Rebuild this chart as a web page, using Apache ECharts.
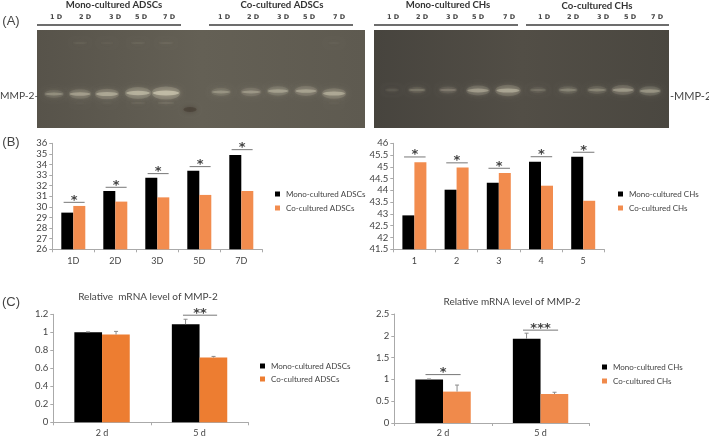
<!DOCTYPE html>
<html><head><meta charset="utf-8">
<style>html,body{margin:0;padding:0;background:#fff}#c{width:709px;height:438px;filter:blur(0.4px)}</style>
<script src="https://cdn.jsdelivr.net/npm/echarts@6/dist/echarts.min.js"></script>
</head><body><div id="c"></div>
<script>
// ---------- data ----------
const daysB1 = ['1D','2D','3D','5D','7D'];
const monoAdscB = [29.46,31.5,32.76,33.4,34.9];
const coAdscB = [30.09,30.5,30.9,31.13,31.5];
const sigAdscB = [30.43,31.85,33.14,33.8,35.4];

const daysB2 = ['1','2','3','4','5'];
const monoChB = [42.94,44.03,44.32,45.22,45.43];
const coChB = [45.2,44.97,44.74,44.2,43.56];
const sigChB = [45.42,45.17,44.94,45.43,45.62];

const daysC = ['2 d','5 d'];
const monoAdscC = [1.0,1.09];
const coAdscC = [0.975,0.72];
const monoAdscErr = [0.005,0.055];
const coAdscErr = [0.035,0.012];
const monoChC = [1.0,1.93];
const coChC = [0.72,0.665];
const monoChErr = [0.01,0.13];
const coChErr = [0.15,0.04];
const sigAdscC = [[1,1.19,'**']];
const sigChC = [[0,1.11,'*'],[1,2.13,'***']];

const gelLaneLabels = ['1 D','2 D','3 D','5 D','7 D'];
// gel lanes: position along the gel and band strength (0..1)
const gel1Lanes = [54,80,107,138,166,221,251,278,306,334];
const gel1Main = [0.45,0.62,0.72,0.85,1.0,0.45,0.5,0.6,0.65,0.72];
const gel1MainY = [94,94,94,93,93,92,92,91,91,93.5];
const gel1Upper = [0,0.18,0.15,0.2,0.22,0,0,0,0,0.12];
const gel1Lower = [0,0.06,0.12,0.22,0.35,0,0,0,0,0.1];
const gel2Lanes = [392,417,448,478,508,538,568,597,623,650];
const gel2Main = [0.1,0.32,0.35,0.68,0.8,0.25,0.42,0.45,0.65,0.6];
const gel2MainY = [90,90,90,90.5,90.5,90,90,90,90,91];

// ---------- styles ----------
const FONT = 'Lato, "Open Sans", sans-serif';
const ORANGE_B = '#f28c4e', ORANGE_C1 = '#ed7d31', ORANGE_C2 = '#f08a4b';
const TXT = '#444';
const AXISC = '#aaa';

const grids = [
  {left:37,top:30,width:328,height:98,show:true,borderWidth:0,
    backgroundColor:new echarts.graphic.LinearGradient(0,0,1,0,[{offset:0,color:'#57534a'},{offset:.5,color:'#646055'},{offset:1,color:'#5e5a50'}])},
  {left:374,top:30,width:295,height:98,show:true,borderWidth:0,
    backgroundColor:new echarts.graphic.LinearGradient(0,0,1,0,[{offset:0,color:'#47443e'},{offset:.5,color:'#524e46'},{offset:1,color:'#4a4740'}])},
  {left:52.3,top:143.3,width:210,height:106},
  {left:393.3,top:143.3,width:211,height:106},
  {left:53.3,top:314.3,width:195,height:108},
  {left:394.3,top:314,width:195,height:110.3}
];

function catAxis(i,cats,margin){
  return {type:'category',gridIndex:i,data:cats,
    axisLine:{show:true,lineStyle:{color:AXISC,width:1}},
    axisTick:{show:true,length:3,lineStyle:{color:AXISC}},
    axisLabel:{color:TXT,fontFamily:FONT,fontSize:9,margin:margin}};
}
function valAxis(i,min,max,interval){
  return {type:'value',gridIndex:i,min,max,interval,splitLine:{show:false},
    axisLine:{show:true,lineStyle:{color:AXISC,width:1}},
    axisTick:{show:true,length:3,lineStyle:{color:AXISC}},
    axisLabel:{color:TXT,fontFamily:FONT,fontSize:9.5,margin:5}};
}
function hiddenX(i,min,max){return {type:'value',gridIndex:i,min,max,show:false};}
function hiddenY(i){return {type:'value',gridIndex:i,min:30,max:128,inverse:true,show:false};}

function bar(name,data,ax,color,w){
  return {type:'bar',name,data,xAxisIndex:ax,yAxisIndex:ax,barWidth:w,barGap:0,
    itemStyle:{color},silent:true,z:2};
}
// significance bracket: line plus stars centred a few pixels above it
function bracket(ax,rows,half,off){
  return {type:'custom',xAxisIndex:ax,yAxisIndex:ax,z:4,silent:true,
    data:rows.map((r,i)=>[r[0],r[1],i]),
    renderItem(p,api){
      const c=api.coord([api.value(0),api.value(1)]);
      const bw=api.size([1,0])[0];
      const x=c[0]+(off||0)*bw;
      return {type:'group',children:[
        {type:'line',shape:{x1:x-half*bw,y1:c[1],x2:x+half*bw,y2:c[1]},style:{stroke:'#777',lineWidth:1}},
        {type:'text',style:{text:rows[api.value(2)][2],x:x,y:c[1]-2,align:'center',verticalAlign:'middle',
          font:'bold 13px "DejaVu Sans", sans-serif',fill:'#444'}}
      ]};
    }};
}
function errBars(ax,vals,errs,shift){
  return {type:'custom',xAxisIndex:ax,yAxisIndex:ax,z:3,silent:true,
    data:vals.map((v,i)=>[i,v,errs[i]]),
    renderItem(p,api){
      const v=api.value(1),e=api.value(2);
      const b=api.coord([api.value(0),v]),t=api.coord([api.value(0),v+e]);
      const x=b[0]+shift;
      return {type:'group',children:[
        {type:'line',shape:{x1:x,y1:b[1],x2:x,y2:t[1]},style:{stroke:'#8a8a8a',lineWidth:1}},
        {type:'line',shape:{x1:x-2,y1:t[1],x2:x+2,y2:t[1]},style:{stroke:'#8a8a8a',lineWidth:1}}
      ]};
    }};
}
// one gel band layer: a wide faint glow and a narrower core are drawn from the same levels
function gelBands(ax,lanes,ys,levels,fade,sx,sy){
  return {type:'scatter',xAxisIndex:ax,yAxisIndex:ax,silent:true,z:3,
    data:lanes.map((x,i)=>[x,ys[i],levels[i]]).filter(d=>d[2]>0)
      .map(d=>({value:d,itemStyle:{opacity:fade*Math.min(1,0.08+0.8*d[2])}})),
    symbol:'circle',
    symbolSize:v=>[(12+14*v[2])*sx,(1.5+4*v[2])*sy],
    itemStyle:{color:'#e0dac2',shadowBlur:5,shadowColor:'#bdb7a0'}
  };
}
const constY=(n,y)=>Array(n).fill(y);
const stars5=v=>v.map((y,i)=>[i,y,'*']);

const series=[
  // gels
  gelBands(0,gel1Lanes,gel1MainY,gel1Main,.22,1.1,2.4),
  gelBands(0,gel1Lanes,gel1MainY,gel1Main,.62,1,.9),
  gelBands(0,gel1Lanes,constY(10,43),gel1Upper,.28,1,.8),
  gelBands(0,gel1Lanes,constY(10,103),gel1Lower,.28,1,.8),
  gelBands(1,gel2Lanes,gel2MainY,gel2Main,.22,1.1,2.4),
  gelBands(1,gel2Lanes,gel2MainY,gel2Main,.58,1,.9),
  {type:'scatter',xAxisIndex:0,yAxisIndex:0,silent:true,z:3,data:[[190,109.5]],symbol:'circle',
    symbolSize:[13,5],itemStyle:{color:'#3f352b',opacity:.5,shadowBlur:5,shadowColor:'#3f352b'}},
  // B
  bar('Mono-cultured ADSCs',monoAdscB,2,'#000',12),
  bar('Co-cultured ADSCs',coAdscB,2,ORANGE_B,12),
  bracket(2,stars5(sigAdscB),.25,.02),
  bar('Mono-cultured CHs',monoChB,3,'#000',12),
  bar('Co-cultured CHs',coChB,3,ORANGE_B,12),
  bracket(3,stars5(sigChB),.255,.01),
  // C
  bar('Mono-cultured ADSCs',monoAdscC,4,'#000',27.7),
  bar('Co-cultured ADSCs',coAdscC,4,ORANGE_C1,27.7),
  errBars(4,monoAdscC,monoAdscErr,-14),
  errBars(4,coAdscC,coAdscErr,14),
  bracket(4,sigAdscC,.175,.005),
  bar('Mono-cultured CHs',monoChC,5,'#000',27.7),
  bar('Co-cultured CHs',coChC,5,ORANGE_C2,27.7),
  errBars(5,monoChC,monoChErr,-14),
  errBars(5,coChC,coChErr,14),
  bracket(5,sigChC,.18,0)
];

function legend(left,top,names,colors,gap){
  return {left,top,orient:'vertical',itemWidth:5,itemHeight:5,itemGap:gap,icon:'rect',selectedMode:false,padding:0,
    data:names.map((n,i)=>({name:n,itemStyle:{color:colors[i]}})),
    textStyle:{color:TXT,fontFamily:FONT,fontSize:8,padding:[0,0,0,1]}};
}

// text furniture
const gt=(text,x,y,o)=>({type:'text',x,y,silent:true,style:Object.assign({text,fill:'#333',font:'10px '+FONT,align:'center',verticalAlign:'middle'},o||{})});
const rule=(x1,x2)=>({type:'line',silent:true,shape:{x1,y1:25,x2,y2:25},style:{stroke:'#3c3c3c',lineWidth:1.5}});
const laneX=[[56,85,115,141,169],[224,253,283,309,339],[393,422,452,478,509],[544,573,603,630,657]];
const graphicEls=[
  gt('(A)',11,21,{font:'13px "Liberation Sans", sans-serif',fill:'#444'}),
  gt('(B)',11,142,{font:'13px "Liberation Sans", sans-serif',fill:'#444'}),
  gt('(C)',11,302,{font:'13px "Liberation Sans", sans-serif',fill:'#444'}),
  gt('Mono-cultured ADSCs',114,5,{font:'bold 9.6px '+FONT}),
  gt('Co-cultured ADSCs',282,5,{font:'bold 9.6px '+FONT}),
  gt('Mono-cultured CHs',448,5,{font:'bold 9.6px '+FONT}),
  gt('Co-cultured CHs',597,6,{font:'bold 9.6px '+FONT}),
  rule(37,181),rule(209,353),rule(374,518),rule(526,669),
  gt('MMP-2-',0,96,{font:'10.2px '+FONT,fill:'#444',align:'left'}),
  gt('-MMP-2',670,96,{font:'11px '+FONT,fill:'#444',align:'left'}),
  gt('Relative  mRNA level of MMP-2',148,297,{font:'10px '+FONT,fill:'#444'}),
  gt('Relative mRNA level of MMP-2',512,302,{font:'10px '+FONT,fill:'#444'})
];
laneX.forEach(r=>r.forEach((x,i)=>graphicEls.push(gt(gelLaneLabels[i],x,17,{font:'bold 6.5px "DejaVu Sans", sans-serif',fill:'#444'}))));

const chart=echarts.init(document.getElementById('c'),null,{renderer:'canvas'});
chart.setOption({
  animation:false,backgroundColor:'#fff',
  grid:grids,
  xAxis:[hiddenX(0,37,365),hiddenX(1,374,669),catAxis(2,daysB1,7),catAxis(3,daysB2,7),catAxis(4,daysC,6),catAxis(5,daysC,6)],
  yAxis:[hiddenY(0),hiddenY(1),valAxis(2,26,36,1),valAxis(3,41.5,46,.5),valAxis(4,0,1.2,.2),valAxis(5,0,2.5,.5)],
  legend:[
    legend(275,190,['Mono-cultured ADSCs','Co-cultured ADSCs'],['#000',ORANGE_B],6),
    legend(618,190,['Mono-cultured CHs','Co-cultured CHs'],['#000',ORANGE_B],6),
    legend(260,362,['Mono-cultured ADSCs','Co-cultured ADSCs'],['#000',ORANGE_C1],5),
    legend(602,363,['Mono-cultured CHs','Co-cultured CHs'],['#000',ORANGE_C2],6)
  ],
  series,
  graphic:{elements:graphicEls}
});
</script></body></html>
